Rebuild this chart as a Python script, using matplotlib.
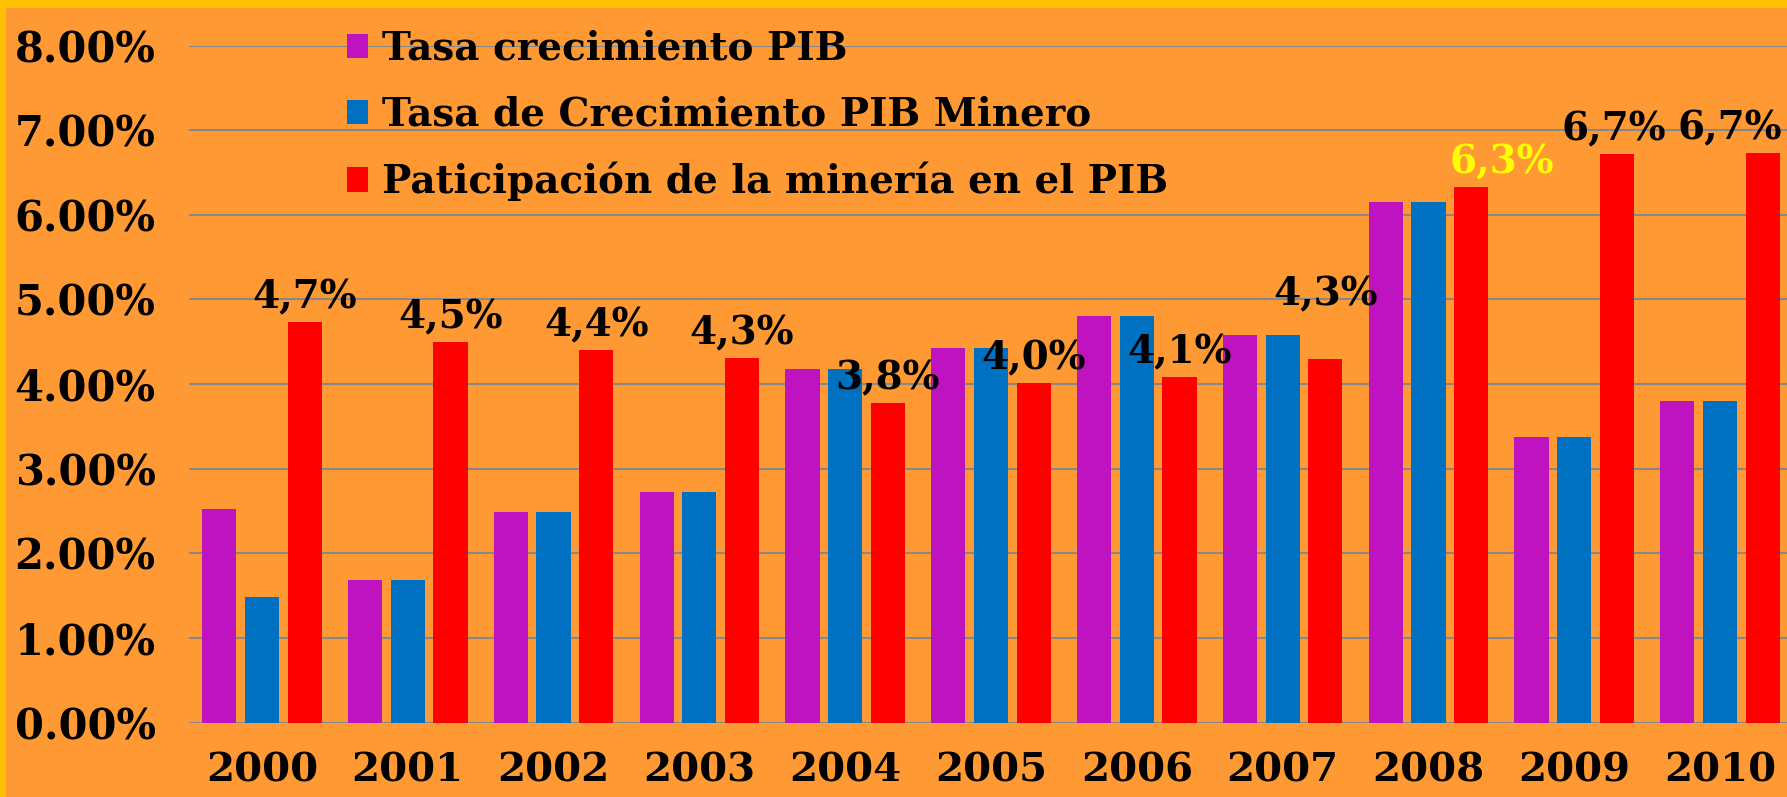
import matplotlib
matplotlib.use("Agg")
import matplotlib.pyplot as plt
from matplotlib.patches import Rectangle
import numpy as np

years = ["2000", "2001", "2002", "2003", "2004", "2005", "2006", "2007", "2008", "2009", "2010"]
pib = [2.52, 1.68, 2.49, 2.72, 4.18, 4.43, 4.81, 4.58, 6.15, 3.37, 3.80]
pib_minero = [1.49, 1.68, 2.49, 2.72, 4.18, 4.43, 4.81, 4.58, 6.15, 3.37, 3.80]
participacion = [4.73, 4.50, 4.40, 4.31, 3.78, 4.01, 4.08, 4.30, 6.33, 6.72, 6.73]
labels = ["4,7%", "4,5%", "4,4%", "4,3%", "3,8%", "4,0%", "4,1%", "4,3%", "6,3%", "6,7%", "6,7%"]
series_names = ["Tasa crecimiento PIB", "Tasa de Crecimiento PIB Minero",
                "Paticipación de la minería en el PIB"]

ORANGE = "#FF9933"
GOLD = "#FFC000"
PURPLE = "#BF13BF"
BLUE = "#0070C0"
RED = "#FF0000"
FONT = "DejaVu Serif"

W, H = 1787, 797
fig = plt.figure(figsize=(W / 100, H / 100), dpi=100)
fig.patch.set_facecolor(GOLD)
fig.add_artist(Rectangle((6 / W, 0), 1, 1 - 8 / H, transform=fig.transFigure,
                         facecolor=ORANGE, edgecolor="none", zorder=0))

ax = fig.add_axes([189 / W, 0.0933, (1793 - 189) / W, 0.9428 - 0.0933])
ax.set_facecolor("none")

x = np.arange(len(years))
bw = 0.234
off = 0.293
ax.bar(x - off, pib, bw, color=PURPLE, label=series_names[0], zorder=3)
ax.bar(x, pib_minero, bw, color=BLUE, label=series_names[1], zorder=3)
bars = ax.bar(x + off, participacion, bw, color=RED, label=series_names[2], zorder=3)

ax.set_xlim(-0.5, len(years) - 0.5)
ax.set_ylim(0, 8)
ax.set_yticks(np.arange(0, 9, 1))
ax.set_yticklabels([f"{v:.2f}%" for v in np.arange(0, 9, 1)])
ax.set_xticks(x)
ax.set_xticklabels(years)
ax.grid(axis="y", color="#888888", linewidth=1.5, zorder=0)
for s in ax.spines.values():
    s.set_visible(False)
ax.tick_params(axis="both", length=0)
ax.tick_params(axis="y", pad=24, labelsize=30)
ax.tick_params(axis="x", pad=21, labelsize=29)
for t in ax.get_xticklabels() + ax.get_yticklabels():
    t.set_fontfamily(FONT)
    t.set_fontweight("bold")

# label offsets in points (dx, dy)
offsets = [(0, 4), (0, 4), (0, 4), (0, 4), (0, 4), (0, 4), (0, 4), (0, 33),
           (22, 4), (-2, 4), (-24, 4)]
colors = ["black"] * 8 + ["#FFFF00"] + ["black"] * 2
for i, (b, lab) in enumerate(zip(bars, labels)):
    ax.annotate(lab, (b.get_x() + b.get_width() / 2, b.get_height()),
                xytext=offsets[i], textcoords="offset points",
                ha="center", va="bottom", fontsize=28, fontweight="bold",
                family=FONT, color=colors[i], annotation_clip=False, zorder=5)

leg = fig.legend(loc="upper left", bbox_to_anchor=(331 / W, 1 - 14 / H),
                 frameon=False, prop={"family": FONT, "weight": "bold", "size": 28},
                 handlelength=0.55, handleheight=0.6, handletextpad=0.35,
                 labelspacing=0.72, borderaxespad=0)

fig.savefig("out.png", dpi=100, facecolor=fig.get_facecolor())
